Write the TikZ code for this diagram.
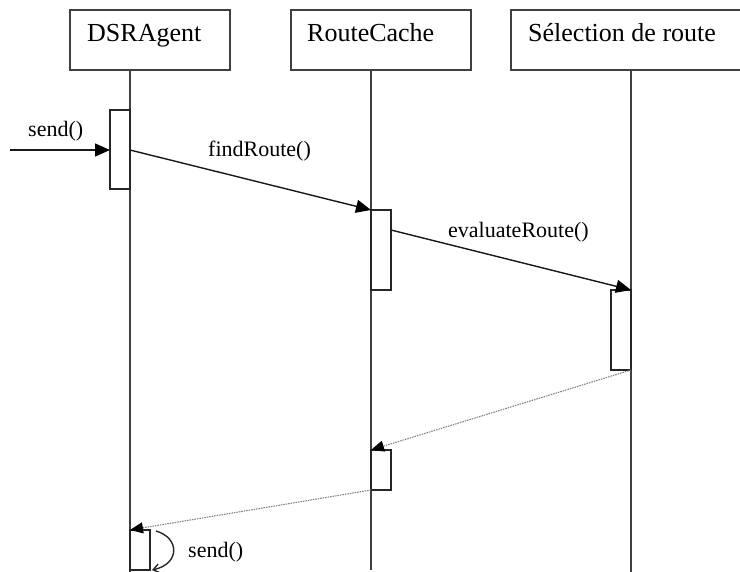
\documentclass[tikz,border=0pt]{standalone}
\usepackage{fontspec}
\setmainfont{Liberation Serif}
\usetikzlibrary{arrows.meta}
\tikzset{
  objbox/.style={draw=black!75, line width=1.2pt, fill=white, inner sep=0pt, outer sep=0pt, anchor=north west},
  boxlabel/.style={inner sep=0pt, anchor=base west, font=\fontsize{26}{30}\selectfont},
  msglabel/.style={inner sep=0pt, anchor=base west, font=\fontsize{22}{26}\selectfont},
  lifeline/.style={draw=black!75, line width=1.2pt},
  actbox/.style={draw=black!85, line width=1.2pt, fill=white, inner sep=0pt, outer sep=0pt, minimum width=20pt},
  msg/.style={draw=black!90, line width=1.4pt, -{Triangle[length=15pt,width=13pt,color=black]}},
  ret/.style={draw=black!50, line width=1.1pt, dash pattern=on 1.5pt off 1pt, -{Triangle[length=13pt,width=11pt,color=black]}},
}
\begin{document}
\begin{tikzpicture}[x=1pt,y=-1pt]
\useasboundingbox (0,0) rectangle (740,572);
% lifelines
\coordinate (dsrtop) at (130,70);
\coordinate (dsrbot) at (130,572);
\coordinate (rctop) at (371,70);
\coordinate (rcbot) at (371,570);
\coordinate (seltop) at (631,70);
\coordinate (selbot) at (631,572);
\draw[lifeline] (dsrtop) -- (dsrbot);
\draw[lifeline] (rctop) -- (rcbot);
\draw[lifeline] (seltop) -- (selbot);
% object boxes
\node[objbox, minimum width=160pt, minimum height=60pt] (dsrbox) at (70,10) {};
\node[boxlabel] (dsrlab) at (87,42) {DSRAgent};
\node[objbox, minimum width=180pt, minimum height=60pt] (rcbox) at (291,10) {};
\node[boxlabel] (rclab) at (307,42) {RouteCache};
\node[objbox, minimum width=250pt, minimum height=60pt] (selbox) at (511,10) {};
\node[boxlabel] (sellab) at (528,42) {Sélection de route};
% activation boxes
\node[actbox, minimum height=79pt, anchor=north east] (a1) at (130,110) {};
\node[actbox, minimum height=80pt, anchor=north west] (a2) at (371,210) {};
\node[actbox, minimum height=80pt, anchor=north east] (a3) at (631,290) {};
\node[actbox, minimum height=40pt, anchor=north west] (a4) at (371,450) {};
\node[actbox, minimum height=40pt, anchor=north west] (a5) at (130,530) {};
% incoming send
\coordinate (in) at (10,150);
\coordinate (a1in) at (110,150);
\draw[msg] (in) -- (a1in);
\node[msglabel] (l1) at (28,137) {send()};
% findRoute
\coordinate (a1out) at (130,150);
\draw[msg] (a1out) -- (a2.north west);
\node[msglabel] (l2) at (208,157) {findRoute()};
% evaluateRoute
\coordinate (a2out) at (391,230);
\draw[msg] (a2out) -- (a3.north east);
\node[msglabel] (l3) at (448,238) {evaluateRoute()};
% returns
\draw[ret] (a3.south east) -- (a4.north west);
\draw[ret] (a4.south west) -- (a5.north west);
% self send
\coordinate (s1) at (156,531);
\coordinate (s2) at (152,570);
\draw[draw=black!85, line width=1.4pt, -{Straight Barb[length=6pt,width=9pt]}] (s1) .. controls (180,538) and (180,564) .. (s2);
\node[msglabel] (l4) at (188,557) {send()};
\end{tikzpicture}
\end{document}
